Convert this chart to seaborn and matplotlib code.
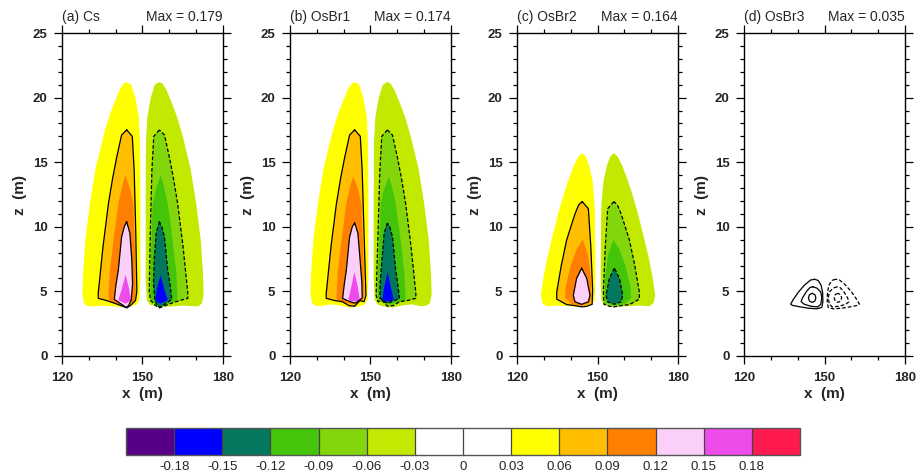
import matplotlib
matplotlib.use("Agg")
import numpy as np
import matplotlib.pyplot as plt
from matplotlib.colors import ListedColormap, BoundaryNorm
from matplotlib.ticker import MultipleLocator
import seaborn as sns

# ---------------- data ----------------
panel_titles = ["(a) Cs", "(b) OsBr1", "(c) OsBr2", "(d) OsBr3"]
panel_max = ["Max = 0.179", "Max = 0.174", "Max = 0.164", "Max = 0.035"]

cbar_bounds = [-0.21, -0.18, -0.15, -0.12, -0.09, -0.06, -0.03, 0.0,
               0.03, 0.06, 0.09, 0.12, 0.15, 0.18, 0.21]
cbar_ticks = [-0.18, -0.15, -0.12, -0.09, -0.06, -0.03, 0.0,
              0.03, 0.06, 0.09, 0.12, 0.15, 0.18]
cbar_labels = ["-0.18", "-0.15", "-0.12", "-0.09", "-0.06", "-0.03", "0",
               "0.03", "0.06", "0.09", "0.12", "0.15", "0.18"]
level_colors = ["#560087", "#0000FF", "#04785E", "#44C50A", "#84D60C", "#C2EA00",
                "#FFFFFF", "#FFFFFF", "#FFFF00", "#FFBE00", "#FF8000", "#FAD0F8",
                "#EE4BEB", "#FF1A50"]

# the negative lobe is the mirror image of the positive one about this x
x_sym = 150.2

# ---- panel (a): positive-lobe outlines of each level (x in m, z in m)
a_x03 = [144.1, 145.8, 147.3, 148.6, 149.1, 149.2, 149.2, 148.8, 147.5, 145.0, 142.0, 139.0,
         135.0, 131.5, 129.5, 128.2, 127.6, 127.9, 128.7, 130.4, 132.5, 135.4, 137.5, 139.5,
         141.5, 143.0]
a_z03 = [21.2, 21.0, 20.0, 18.5, 16.5, 12.0, 6.0, 4.3, 3.95, 3.85, 3.8, 3.85,
         3.9, 3.85, 3.85, 4.1, 4.8, 6.5, 9.0, 11.8, 14.5, 17.0, 18.5, 19.6,
         20.6, 21.1]
a_x06 = [144.1, 146.2, 146.9, 147.5, 147.9, 147.4, 145.5, 144.1, 142.0, 139.75, 136.5, 133.5,
         133.5, 135.3, 137.3, 138.9, 140.4, 142.2]
a_z06 = [17.5, 17.0, 14.4, 9.5, 5.0, 4.3, 3.9, 3.72, 3.9, 4.07, 4.3, 4.46,
         4.85, 8.5, 11.8, 13.8, 15.4, 17.1]
a_x09 = [143.6, 145.5, 146.6, 147.2, 147.5, 147.1, 144.0, 141.0, 137.6, 137.3, 137.9, 139.5,
         141.0, 142.5]
a_z09 = [14.0, 12.8, 11.8, 8.0, 4.8, 4.2, 3.9, 4.0, 4.3, 4.6, 6.66, 9.5,
         11.8, 13.2]
a_x12 = [144.1, 145.3, 146.0, 146.3, 145.8, 144.8, 143.9, 141.5, 139.5, 140.1, 141.0, 142.2,
         143.2]
a_z12 = [10.4, 9.5, 7.5, 5.6, 4.33, 3.9, 3.76, 4.1, 4.38, 5.5, 6.66, 9.2,
         10.0]
a_x15 = [143.7, 145.0, 145.7, 145.0, 143.7, 142.2, 141.0, 142.3]
a_z15 = [6.27, 5.2, 4.33, 4.2, 4.05, 4.2, 4.33, 5.2]

# ---- panel (b)
b_x03 = [144.1, 145.8, 147.3, 148.6, 149.1, 149.2, 149.2, 148.8, 147.5, 145.0, 142.0, 139.0,
         135.0, 131.5, 129.5, 128.2, 127.6, 127.9, 128.7, 130.4, 132.5, 135.4, 137.5, 139.5,
         141.5, 143.0]
b_z03 = [21.2, 21.0, 20.0, 18.5, 16.5, 12.0, 6.0, 4.3, 3.95, 3.8, 3.75, 3.9,
         4.0, 3.85, 3.9, 4.1, 4.8, 6.5, 9.0, 11.8, 14.5, 17.0, 18.5, 19.6,
         20.6, 21.1]
b_x06 = [144.1, 146.2, 146.9, 147.6, 148.3, 147.6, 146.0, 144.1, 142.0, 139.5, 136.5, 133.5,
         133.5, 135.3, 137.3, 138.9, 140.4, 142.2]
b_z06 = [17.5, 17.0, 14.4, 9.5, 4.7, 4.2, 4.3, 3.85, 3.9, 4.2, 4.3, 4.46,
         4.85, 8.5, 11.8, 13.8, 15.4, 17.1]
b_x09 = [143.6, 145.5, 146.6, 147.3, 147.7, 147.2, 144.0, 141.0, 137.6, 137.3, 137.9, 139.5,
         141.0, 142.5]
b_z09 = [13.9, 12.8, 11.8, 8.0, 4.8, 4.3, 4.0, 4.1, 4.3, 4.6, 6.66, 9.5,
         11.8, 13.2]
b_x12 = [144.1, 145.3, 146.1, 146.8, 146.9, 145.2, 144.1, 142.5, 139.6, 140.2, 141.0, 142.2,
         143.2]
b_z12 = [10.3, 9.5, 7.5, 5.6, 4.5, 4.2, 4.1, 4.2, 4.45, 5.5, 6.66, 9.2,
         10.0]
b_x15 = [144.0, 145.3, 146.0, 145.2, 144.0, 142.6, 141.8, 142.8]
b_z15 = [6.5, 5.3, 4.4, 4.25, 4.25, 4.25, 4.4, 5.3]

# ---- panel (c)
c_x03 = [144.2, 145.5, 146.8, 148.2, 149.0, 149.2, 149.0, 147.5, 144.0, 140.0, 135.0, 131.0,
         129.5, 128.9, 129.8, 131.2, 132.9, 135.3, 137.9, 139.5, 141.0, 142.8]
c_z03 = [15.7, 15.5, 14.8, 13.5, 11.5, 6.0, 4.3, 3.95, 3.8, 3.85, 3.9, 3.85,
         4.1, 4.7, 6.0, 7.5, 8.98, 11.0, 12.85, 13.8, 14.65, 15.4]
c_x06 = [144.3, 146.6, 147.5, 148.2, 148.0, 146.0, 144.3, 141.5, 138.5, 134.8, 134.8, 136.5,
         138.5, 141.6, 143.0]
c_z06 = [11.95, 11.4, 8.5, 5.1, 4.0, 3.85, 3.8, 3.9, 3.98, 4.4, 4.95, 7.0,
         8.98, 11.0, 11.7]
c_x09 = [144.5, 146.5, 147.6, 147.8, 147.2, 144.0, 140.5, 137.9, 138.2, 140.0, 142.3]
c_z09 = [9.0, 7.8, 6.0, 4.6, 4.1, 3.9, 4.0, 4.5, 5.4, 7.0, 8.3]
c_x12 = [144.1, 146.0, 147.2, 146.6, 144.1, 141.6, 141.0, 142.2]
c_z12 = [6.8, 6.0, 4.7, 4.2, 4.0, 4.2, 4.7, 6.0]

# ---- panel (d): contour lines only (0.01, 0.02, 0.03)
d_x01 = [146.3, 147.6, 148.7, 149.3, 149.4, 149.0, 147.0, 144.0, 140.5, 138.0, 137.4, 138.3,
         140.3, 142.6, 144.8]
d_z01 = [5.94, 5.85, 5.5, 4.9, 4.2, 3.75, 3.65, 3.7, 3.82, 3.92, 4.02, 4.35,
         4.95, 5.5, 5.88]
d_x02 = [145.7, 147.2, 148.6, 149.0, 148.6, 147.5, 145.0, 142.5, 141.3, 141.8, 143.3, 144.6]
d_z02 = [5.36, 5.25, 4.95, 4.5, 4.0, 3.8, 3.85, 4.0, 4.2, 4.5, 5.0, 5.3]
d_x03 = [145.4, 146.4, 146.8, 146.4, 145.4, 144.4, 144.0, 144.4]
d_z03 = [4.85, 4.75, 4.5, 4.25, 4.15, 4.25, 4.5, 4.75]

panel_fills = [
    [(0.03, a_x03, a_z03), (0.06, a_x06, a_z06), (0.09, a_x09, a_z09),
     (0.12, a_x12, a_z12), (0.15, a_x15, a_z15)],
    [(0.03, b_x03, b_z03), (0.06, b_x06, b_z06), (0.09, b_x09, b_z09),
     (0.12, b_x12, b_z12), (0.15, b_x15, b_z15)],
    [(0.03, c_x03, c_z03), (0.06, c_x06, c_z06), (0.09, c_x09, c_z09),
     (0.12, c_x12, c_z12)],
    [],
]
line_levels = [0.06, 0.12]
panel_d_lines = [(d_x01, d_z01), (d_x02, d_z02), (d_x03, d_z03)]

# ---------------- drawing ----------------
sns.set_theme(style="ticks")
plt.rcParams["font.family"] = ["Liberation Sans", "DejaVu Sans"]
plt.rcParams["axes.linewidth"] = 1.0

fig = plt.figure(figsize=(9.16, 4.73), dpi=100)
W, H = 916.0, 473.0
lefts_px = [62, 290, 517, 744]
ax_w, ax_top, ax_bot = 161, 33, 356


def color_index(v):
    return int(np.argmin(np.abs(np.array(cbar_bounds) - v)))


def closed(xs, zs):
    return list(xs) + [xs[0]], list(zs) + [zs[0]]


dash = (0, (3.0, 1.6))

for i, left in enumerate(lefts_px):
    ax = fig.add_axes([left / W, 1 - ax_bot / H, ax_w / W, (ax_bot - ax_top) / H])
    ax.set_facecolor("white")
    for k, (lev, xs, zs) in enumerate(panel_fills[i]):
        xm = [2 * x_sym - x for x in xs]
        ax.fill(xs, zs, color=level_colors[color_index(lev)], lw=0, zorder=2 + k)
        ax.fill(xm, zs, color=level_colors[color_index(-lev) - 1], lw=0, zorder=2 + k)
    for lev, xs, zs in panel_fills[i]:
        if lev in line_levels:
            cx, cz = closed(xs, zs)
            ax.plot(cx, cz, color="black", lw=0.9, zorder=10)
            ax.plot([2 * x_sym - x for x in cx], cz, color="black", lw=0.9,
                    linestyle=dash, zorder=10)
    if i == 3:
        for xs, zs in panel_d_lines:
            cx, cz = closed(xs, zs)
            ax.plot(cx, cz, color="black", lw=0.9, zorder=10)
            ax.plot([2 * x_sym - x for x in cx], cz, color="black", lw=0.9,
                    linestyle=dash, zorder=10)

    ax.set_xlim(120, 180)
    ax.set_ylim(0, 25)
    ax.set_xticks([120, 150, 180])
    ax.set_yticks([0, 5, 10, 15, 20, 25])
    ax.xaxis.set_minor_locator(MultipleLocator(10))
    ax.yaxis.set_minor_locator(MultipleLocator(1))
    ax.tick_params(which="both", direction="out", top=True, right=True,
                   color="black", width=0.9)
    ax.tick_params(which="major", length=5.5, labelsize=9.5)
    ax.tick_params(axis="x", which="major", pad=6)
    ax.tick_params(axis="y", which="major", pad=5)
    ax.tick_params(which="minor", length=3)
    for lab in ax.get_xticklabels() + ax.get_yticklabels():
        lab.set_fontweight("bold")
    for sp in ax.spines.values():
        sp.set_visible(True)
        sp.set_color("black")
        sp.set_linewidth(1.0)
    ax.set_xlabel("x  (m)", fontsize=11, fontweight="bold", labelpad=2)
    ax.set_ylabel("z  (m)", fontsize=11, fontweight="bold", labelpad=4)
    ax.set_title(panel_titles[i], loc="left", fontsize=10, pad=11)
    ax.set_title(panel_max[i], loc="right", fontsize=10, pad=9)
    ax.grid(False)

# colour bar
cax = fig.add_axes([126 / W, 1 - 455 / H, 674 / W, 27 / H])
cmap = ListedColormap(level_colors)
norm = BoundaryNorm(cbar_bounds, cmap.N)
sm = matplotlib.cm.ScalarMappable(norm=norm, cmap=cmap)
cb = fig.colorbar(sm, cax=cax, orientation="horizontal", boundaries=cbar_bounds,
                  ticks=cbar_ticks, drawedges=True)
cb.set_ticklabels(cbar_labels)
cb.ax.minorticks_off()
cb.ax.tick_params(which="both", length=0, labelsize=9.5, pad=4)
cb.outline.set_edgecolor("#555555")
cb.outline.set_linewidth(1.0)
cb.dividers.set_color("#444444")
cb.dividers.set_linewidth(0.9)

fig.savefig("out.png", dpi=100)
